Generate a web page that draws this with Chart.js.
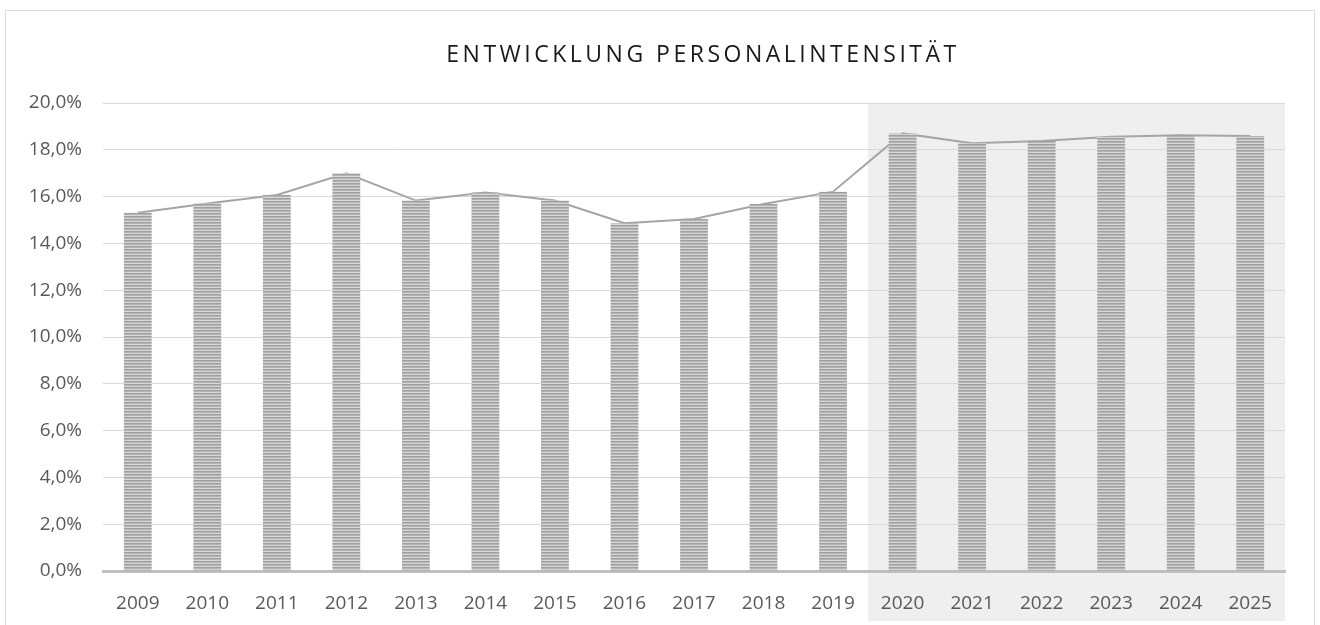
<!DOCTYPE html>
<html>
<head>
<meta charset="utf-8">
<title>Entwicklung Personalintensität</title>
<script src="https://cdn.jsdelivr.net/npm/chart.js@4.4.1/dist/chart.umd.min.js"></script>
<style>
  html, body { margin: 0; padding: 0; background: #fff; }
  #wrap { position: relative; width: 1320px; height: 625px; overflow: hidden; }
  #frame { position: absolute; left: 5px; top: 10px; width: 1308px; height: 700px; border: 1px solid #d9d9d9; }
  #myChart { position: absolute; left: 0; top: 0; }
  #title {
    position: absolute; left: 112px; width: 1182px; top: 37px;
    text-align: center; font-family: "Open Sans", sans-serif; font-size: 23px;
    letter-spacing: 3.5px; color: #1a1a1a;
  }
</style>
</head>
<body>
<div id="wrap">
  <div id="frame"></div>
  <canvas id="myChart" width="1320" height="625"></canvas>
  <div id="title">ENTWICKLUNG PERSONALINTENSITÄT</div>
</div>
<script>
// values (percent)
const years = ["2009", "2010", "2011", "2012", "2013", "2014", "2015", "2016", "2017",
  "2018", "2019", "2020", "2021", "2022", "2023", "2024", "2025"];
const intensity = [15.31, 15.71, 16.07, 17.0, 15.83, 16.17, 15.83, 14.86, 15.04,
  15.68, 16.21, 18.7, 18.28, 18.38, 18.56, 18.62, 18.59];
const yTicks = [0, 2, 4, 6, 8, 10, 12, 14, 16, 18, 20];
const forecastFrom = "2020"; // shaded part of the chart

const tickFont = { family: "Open Sans", size: 19 };

function stripes(ctx) {
  // horizontal hatch like the bars in the original
  const c = document.createElement("canvas");
  c.width = 4;
  c.height = 3;
  const g = c.getContext("2d");
  g.fillStyle = "#d6d6d6";
  g.fillRect(0, 0, 4, 3);
  g.fillStyle = "#a0a0a0";
  g.fillRect(0, 0, 4, 1);
  g.fillStyle = "#b4b4b4";
  g.fillRect(0, 1, 4, 1);
  return ctx.createPattern(c, "repeat");
}

// grey box behind the forecast years
const shadePlugin = {
  id: "shade",
  beforeDraw(chart) {
    const { ctx, chartArea, scales } = chart;
    const x = scales.x;
    const i = years.indexOf(forecastFrom);
    const half = (x.getPixelForValue(1) - x.getPixelForValue(0)) / 2;
    const left = x.getPixelForValue(i) - half;
    ctx.save();
    ctx.fillStyle = "#efefef";
    ctx.fillRect(left, chartArea.top, chartArea.right - left, chartArea.bottom - chartArea.top + 50);
    ctx.restore();
  }
};

function initChart() {
  const canvas = document.querySelector("#myChart");
  const ctx = canvas.getContext("2d");

  const data = {
    labels: years,
    datasets: [
      {
        type: "bar",
        data: intensity,
        backgroundColor: stripes(ctx),
        barPercentage: 0.4,
        categoryPercentage: 1,
        order: 1
      },
      {
        type: "line",
        data: intensity,
        borderColor: "#a5a5a5",
        borderWidth: 2,
        pointRadius: 0,
        tension: 0,
        order: 2
      }
    ]
  };

  const config = {
    type: "bar",
    data: data,
    options: {
      responsive: false,
      animation: false,
      layout: { padding: { top: 103, right: 35, left: 0, bottom: 0 } },
      plugins: { legend: { display: false }, tooltip: { enabled: false } },
      scales: {
        x: {
          grid: { display: false, drawTicks: false },
          border: { display: true, color: "#bfbfbf", width: 3 },
          ticks: { color: "#595959", font: tickFont, padding: 21, maxRotation: 0 },
          afterFit: (scale) => { scale.height = 54; }
        },
        y: {
          min: 0,
          max: 20,
          afterBuildTicks: (scale) => { scale.ticks = yTicks.map((v) => ({ value: v })); },
          grid: { color: "#d9d9d9", lineWidth: 1, drawTicks: false },
          border: { display: false },
          ticks: {
            color: "#595959",
            font: tickFont,
            padding: 21,
            callback: (v) => v.toFixed(1).replace(".", ",") + "%"
          },
          afterFit: (scale) => { scale.width = 103; }
        }
      }
    },
    plugins: [shadePlugin]
  };

  return new Chart(canvas, config);
}

document.addEventListener("DOMContentLoaded", () => initChart());
</script>
</body>
</html>
